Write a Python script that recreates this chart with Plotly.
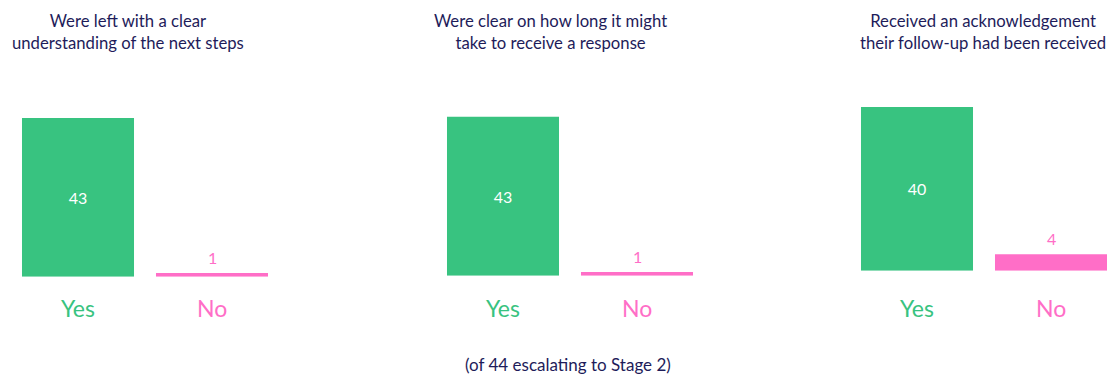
import plotly.graph_objects as go

# Survey responses among the 44 cases escalating to Stage 2
categories = ["Yes", "No"]
titles = [
    "Were left with a clear<br>understanding of the next steps",
    "Were clear on how long it might<br>take to receive a response",
    "Received an acknowledgement<br>their follow-up had been received",
]
yes_counts = [43, 43, 40]
no_counts = [1, 1, 4]
caption = "(of 44 escalating to Stage 2)"

GREEN = "#38C380"
PINK = "#FF6EC7"
NAVY = "#1E1C5A"
FONT = "Lato"

W, H = 1107, 374

# Panel geometry in pixels: x domain, x range, y bottom, y top, y max
panels = [
    dict(x0=11, x1=279, xr=[-0.5, 1.5], yb=276.7, yt=100, ymax=47.9, tx=128),
    dict(x0=436, x1=704, xr=[-0.5, 1.5], yb=275.7, yt=100, ymax=47.5, tx=550),
    dict(x0=850, x1=1107, xr=[-0.5, -0.5 + 257 / 134], yb=270.7, yt=100, ymax=41.7, tx=983),
]

fig = go.Figure()
annotations = []

for i, p in enumerate(panels):
    n = "" if i == 0 else str(i + 1)
    xa, ya = "x" + n, "y" + n
    vals = [yes_counts[i], no_counts[i]]
    fig.add_trace(go.Bar(
        x=categories, y=vals,
        marker=dict(color=[GREEN, PINK], line=dict(width=0)),
        text=[str(yes_counts[i]), ""],
        textposition="inside", insidetextanchor="middle",
        textfont=dict(color="white", size=16, family=FONT),
        hoverinfo="skip", showlegend=False,
        xaxis=xa, yaxis=ya,
    ))
    fig.layout["xaxis" + n] = dict(
        domain=[p["x0"] / W, p["x1"] / W], range=p["xr"], type="category",
        showgrid=False, zeroline=False, showticklabels=False, showline=False,
        fixedrange=True, anchor=ya,
    )
    fig.layout["yaxis" + n] = dict(
        domain=[(H - p["yb"]) / H, (H - p["yt"]) / H], range=[0, p["ymax"]],
        showgrid=False, zeroline=False, showticklabels=False, showline=False,
        fixedrange=True, anchor=xa,
    )
    # value above the "No" bar
    annotations.append(dict(
        x="No", y=no_counts[i], xref=xa, yref=ya, text=str(no_counts[i]),
        showarrow=False, yanchor="middle", yshift=16,
        font=dict(color=PINK, size=16, family=FONT),
    ))
    # category labels under the bars
    for cat, col in zip(categories, [GREEN, PINK]):
        annotations.append(dict(
            x=cat, y=(H - 308) / H, xref=xa, yref="paper", text=cat,
            showarrow=False, yanchor="middle",
            font=dict(color=col, size=23, family=FONT),
        ))
    # panel title
    annotations.append(dict(
        x=p["tx"] / W, y=(H - 32) / H, xref="paper", yref="paper",
        text=titles[i], showarrow=False, xanchor="center", yanchor="middle",
        align="center", font=dict(color=NAVY, size=16.7, family=FONT),
    ))

annotations.append(dict(
    x=568 / W, y=(H - 364) / H, xref="paper", yref="paper", text=caption,
    showarrow=False, xanchor="center", yanchor="middle",
    font=dict(color=NAVY, size=17, family=FONT),
))

fig.update_layout(
    width=W, height=H, margin=dict(l=0, r=0, t=0, b=0),
    paper_bgcolor="white", plot_bgcolor="white",
    bargap=0.164, annotations=annotations,
    font=dict(family=FONT),
)

fig.write_html("out.html", config={"displayModeBar": False})
